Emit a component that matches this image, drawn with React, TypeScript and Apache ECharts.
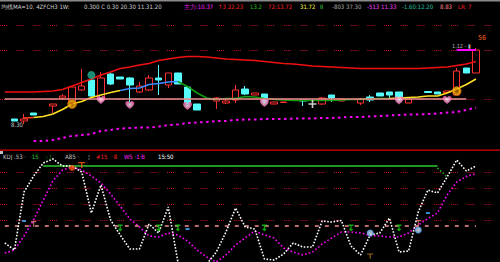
import React, { useEffect, useRef } from 'react';
import * as echarts from 'echarts';

const days = ['01','02','03','04','05','06','07','08','09','10','11','12','13','14','15','16','17','18','19','20','21','22','23','24','25','26','27','28','29','30','31','32','33','34','35','36','37','38','39','40','41','42','43','44','45','46','47','48','49','50','51','52'];

// [open, close, low, high]
const candles: any[] = [
  ['-','-','-','-'],
  [10.62, 10.58, 10.58, 10.62],
  [10.58, 10.62, 10.52, 10.72],
  [10.74, 10.70, 10.70, 10.74],
  ['-','-','-','-'],
  [10.88, 10.92, 10.74, 10.92],
  [11.04, 11.08, 11.00, 11.12],
  [10.96, 11.26, 10.96, 11.28],
  [11.20, 11.28, 11.18, 11.62],
  [11.40, 11.08, 11.06, 11.42],
  [11.00, 11.44, 10.96, 11.56],
  [11.52, 11.32, 11.30, 11.54],
  [11.46, 11.42, 11.42, 11.46],
  [11.44, 11.30, 10.96, 11.46],
  [11.16, 11.28, 11.14, 11.36],
  [11.20, 11.44, 11.18, 11.50],
  [11.44, 11.40, 11.10, 11.70],
  [11.30, 11.54, 11.24, 11.54],
  [11.54, 11.32, 11.32, 11.54],
  [11.26, 10.94, 10.92, 11.28],
  [10.92, 10.80, 10.80, 10.92],
  ['-','-','-','-'],
  [10.98, 11.04, 10.82, 11.06],
  [10.94, 10.98, 10.92, 11.04],
  [11.00, 11.20, 10.94, 11.30],
  [11.22, 11.12, 11.10, 11.28],
  [11.10, 11.14, 11.10, 11.14],
  [11.12, 10.98, 10.98, 11.12],
  [10.92, 10.96, 10.92, 10.96],
  [10.95, 10.96, 10.95, 10.96],
  ['-','-','-','-'],
  [11.00, 10.98, 10.88, 11.00],
  ['-','-','-','-'],
  [10.92, 11.04, 10.90, 11.06],
  [11.10, 11.04, 10.96, 11.10],
  [10.98, 11.02, 10.98, 11.02],
  ['-','-','-','-'],
  [10.94, 11.02, 10.90, 11.02],
  [11.06, 11.00, 10.96, 11.10],
  [11.14, 11.08, 11.08, 11.14],
  [11.16, 11.10, 11.04, 11.16],
  [11.16, 11.04, 11.04, 11.16],
  [10.94, 11.02, 10.94, 11.02],
  ['-','-','-','-'],
  [11.17, 11.15, 11.15, 11.17],
  [11.16, 11.12, 11.12, 11.16],
  [11.15, 11.18, 11.15, 11.18],
  [11.10, 11.58, 11.10, 11.64],
  [11.64, 11.54, 11.54, 11.64],
  [11.54, 12.00, 11.54, 12.04],
];

const maLong = [11.16,11.16,11.16,11.16,11.17,11.18,11.21,11.28,11.35,11.42,11.50,11.56,11.63,11.66,11.70,11.73,11.79,11.82,11.85,11.87,11.87,11.86,11.84,11.82,11.81,11.80,11.79,11.77,11.75,11.73,11.72,11.70,11.68,11.67,11.66,11.65,11.64,11.63,11.63,11.63,11.63,11.63,11.63,11.63,11.64,11.65,11.66,11.69,11.72,11.77];

const maShort: (number | null)[] = [null,null,10.64,10.65,10.67,10.72,10.81,10.92,10.97,11.05,11.10,11.15,11.19,11.23,11.24,11.31,11.33,11.36,11.37,11.27,11.14,11.04,11.01,11.03,11.03,11.07,11.06,11.03,11.01,11.00,10.99,10.99,10.99,10.99,10.99,11.00,11.01,11.01,11.02,11.03,11.03,11.04,11.05,11.06,11.08,11.08,11.14,11.22,11.31,11.42];

const lowerBand: (number | null)[] = [null,null,null,10.18,10.18,10.20,10.24,10.28,10.30,10.32,10.38,10.40,10.43,10.44,10.45,10.45,10.47,10.50,10.51,10.54,10.55,10.56,10.58,10.58,10.60,10.61,10.61,10.62,10.62,10.62,10.63,10.63,10.63,10.64,10.64,10.65,10.66,10.66,10.67,10.68,10.69,10.70,10.71,10.71,10.72,10.73,10.75,10.76,10.80,10.85];

const kLine = [-8.75,-17.5,55,75,91.25,96.25,87.5,87.5,80,28.75,63.75,20,1.25,-16.25,-16.25,15,3.75,36.25,-32.5,-45,-45,-35,-20,5,35,11.25,8.75,-28.75,-30,-22.5,-8.75,-13.75,-13.75,18.75,17.5,19.4,-12.5,-23.75,1.25,3.75,22.5,-20,-18.75,30,57.5,53.75,73.75,95,81.25,87.5];

const dLine = [-21.25,-17.5,0,20,45,68.75,82.5,86.25,82.5,75,66.25,52.5,37.5,21.25,11.25,0,-1.25,3.75,1.25,-6.25,-17.5,-26.25,-32.5,-23.75,-11.25,-2.5,6.25,1.25,-2.5,-15,-20,-23.75,-20,-10,-2.5,5,5,3.75,0.6,0,-1.25,-1.25,3.75,13.75,21.9,28.75,51.25,67.5,74.4,78.1];

const jTail: (number | null)[] = [null,null,null,null,null,null,null,null,null,null,null,null,null,null,null,null,null,null,null,null,null,null,null,null,null,null,null,null,null,null,null,null,null,null,null,null,null,null,null,null,null,null,null,null,null,85,73.75];

const hearts = [[10, 11.00], [13, 10.90], [19, 10.88], [27, 10.94], [41, 10.99], [46, 11.00]];
const goldCoins = [[7, 10.92], [47, 11.18]];
const tealCoins = [[9, 11.50]];
const dojiCross = [[32, 10.92]];
const buyArrows = [[12, 10], [16, 10], [18, 10], [27, 10], [36, 10], [41, 10]];
const orangeT = [[8, 88.75]];
const orangeDot = [[7, 85]];
const pinkMarks = [[3, 15], [43, 16.25]];
const cyanBlobs = [[38, 3.75], [43, 7.5]];
const brownT = [[38, -25]];
const cyanDots = [[2, 18.75], [19, 8.75], [44, 28.75]];

const topGridLevels = [12.5, 12.0, 11.02];
const refLevel = 11.02;
const kdjGridLevels = [80, 60, 40, 20];
const kdjRef = 12.5;
const kdjHigh = 87.5;
const lastMark = 12.0;

const topTexts = [
  { t: '均线MA=10. 4ZFCH3 1W:', x: 1, c: '#d0d0d0' },
  { t: '0.300 C 0.30 20.30 11.31.20', x: 84, c: '#d0d0d0' },
  { t: '主力:10.37', x: 184, c: '#ff20ff' },
  { t: '↑3 22.23', x: 218, c: '#ff2020' },
  { t: '13.2', x: 250, c: '#20c020' },
  { t: '72:13.72', x: 268, c: '#ff2020' },
  { t: '31.72', x: 300, c: '#ffff40' },
  { t: 'II', x: 320, c: '#40e040' },
  { t: '-803 37.30', x: 332, c: '#a8a8a8' },
  { t: '-513 11.33', x: 367, c: '#ff40ff' },
  { t: '-1.60:12.20', x: 402, c: '#20c0a0' },
  { t: '8.83', x: 440, c: '#ff8080' },
  { t: 'LR: 7', x: 458, c: '#ff2020' },
];
const kdjTexts = [
  { t: 'KDJ .53 ·', x: 3, c: '#c0c0c0' },
  { t: '·15', x: 30, c: '#20c020' },
  { t: ': ¦', x: 46, c: '#20c020' },
  { t: 'A85 ·', x: 65, c: '#c0c0c0' },
  { t: '¦', x: 88, c: '#c0c0c0' },
  { t: '#15', x: 96, c: '#ff2020' },
  { t: '·8', x: 112, c: '#ff2020' },
  { t: 'W5 ·1·B', x: 124, c: '#ff20ff' },
  { t: '15:50', x: 158, c: '#ffffff' },
];

const heartPath = 'path://M50,90 C20,65 0,45 0,25 C0,10 12,0 25,0 C37,0 45,8 50,18 C55,8 63,0 75,0 C88,0 100,10 100,25 C100,45 80,65 50,90 Z';
const crossPath = 'path://M4,0 H6 V4 H10 V6 H6 V10 H4 V6 H0 V4 H4 Z';
const arrowPath = 'path://M0,0 H8 V2 H5 V6 H8 L4,10 L0,6 H3 V2 H0 Z';
const tPath = 'path://M0,0 H10 V2 H6 V10 H4 V2 H0 Z';

const FONT = 'DejaVu Sans Condensed, DejaVu Sans, sans-serif';

export default function App() {
  const ref = useRef<HTMLDivElement>(null);
  useEffect(() => {
    const chart = echarts.init(ref.current!, null, { renderer: 'svg' });
    const seg = (from: number, to: number) => maShort.map((v, i) => (i >= from && i <= to ? v : null));
    const segLine = (from: number, to: number, color: string) => ({
      type: 'line', xAxisIndex: 0, yAxisIndex: 0, data: seg(from, to), symbol: 'none',
      lineStyle: { color, width: 1.6 }, z: 4, connectNulls: false,
    });
    const dotted = [1, 1, 1, 1, 1, 1, 1, 9.7];
    const scatter = (xi: number, yi: number, data: any[], symbol: string, size: any, color: any, z = 8, extra: any = {}) => ({
      type: 'scatter', xAxisIndex: xi, yAxisIndex: yi, data, symbol, symbolSize: size,
      itemStyle: { color, ...extra }, z, silent: true,
    });
    const txt = (t: string, x: number, y: number, c: string, size = 6) => ({
      type: 'text', x, y, z: 20, style: { text: t, fill: c, fontSize: size, fontFamily: FONT },
    });
    const texts: any[] = [];
    topTexts.forEach((d) => texts.push(txt(d.t, d.x, 3, d.c)));
    kdjTexts.forEach((d) => texts.push(txt(d.t, d.x, 153, d.c)));
    texts.push(txt('8.30', 11, 121, '#c0c0c0'));
    texts.push(txt('1.12 - ▮', 452, 43, '#b0b0b0', 5.5));
    texts.push(txt('56', 478, 34, '#ff6020', 7));
    texts.push({ type: 'rect', shape: { x: 0, y: 0, width: 500, height: 1.5 }, style: { fill: '#8a8a8a' }, z: 20 });
    texts.push({ type: 'rect', shape: { x: 0, y: 149.5, width: 500, height: 1.2 }, style: { fill: '#e00000' }, z: 20 });
    texts.push({ type: 'rect', shape: { x: 0, y: 151, width: 3, height: 3 }, style: { fill: '#c0c0c0' }, z: 20 });

    const heartColor = new echarts.graphic.RadialGradient(0.5, 0.45, 0.6, [
      { offset: 0, color: '#ffffff' }, { offset: 0.5, color: '#ff9ad0' }, { offset: 1, color: '#ff3c9c' },
    ]);
    const coinColor = new echarts.graphic.RadialGradient(0.5, 0.5, 0.6, [
      { offset: 0, color: '#c05000' }, { offset: 0.5, color: '#f0b000' }, { offset: 1, color: '#ffd040' },
    ]);
    const blobColor = new echarts.graphic.RadialGradient(0.5, 0.5, 0.6, [
      { offset: 0, color: '#ffffff' }, { offset: 1, color: '#40a0ff' },
    ]);

    const option: any = {
      animation: false,
      backgroundColor: '#000000',
      graphic: texts,
      grid: [
        { left: -2, right: 0, top: 0, height: 150 },
        { left: -2, right: 0, top: 150, height: 112 },
      ],
      xAxis: [
        { type: 'category', gridIndex: 0, data: days, show: false, boundaryGap: true },
        { type: 'category', gridIndex: 1, data: days, show: false, boundaryGap: true },
      ],
      yAxis: [
        { type: 'value', gridIndex: 0, min: 10, max: 13, show: false, splitLine: { show: false } },
        { type: 'value', gridIndex: 1, min: -32.5, max: 107.5, show: false, splitLine: { show: false } },
      ],
      series: [
        {
          type: 'candlestick', xAxisIndex: 0, yAxisIndex: 0, data: candles, barWidth: 7, z: 3,
          itemStyle: { color: '#000000', color0: '#54fcfc', borderColor: '#ff3030', borderColor0: '#54fcfc', borderWidth: 1 },
          markLine: {
            silent: true, symbol: 'none', label: { show: false },
            lineStyle: { color: '#c8102a', type: dotted, width: 1 },
            data: topGridLevels.map((v) => ({ yAxis: v })),
          },
        },
        {
          type: 'line', xAxisIndex: 0, yAxisIndex: 0, data: maLong, symbol: 'none', z: 4,
          lineStyle: { color: '#f01010', width: 1.6 },
          markLine: {
            silent: true, symbol: 'none', label: { show: false },
            lineStyle: { color: '#f09090', type: 'solid', width: 1.5 },
            data: [
              [{ coord: [days[0], refLevel] }, { coord: [days[48], refLevel] }],
              [{ coord: [days[47], lastMark], lineStyle: { color: '#ff00ff', width: 2, type: 'solid' } }, { coord: [days[49], lastMark] }],
            ],
          },
        },
        segLine(2, 3, '#ff4020'),
        segLine(3, 12, '#ffe020'),
        segLine(12, 18, '#3a8cff'),
        segLine(18, 40, '#109a10'),
        segLine(40, 49, '#ffe020'),
        {
          type: 'line', xAxisIndex: 0, yAxisIndex: 0, data: lowerBand, symbol: 'none', z: 4,
          lineStyle: { color: '#ff00ff', width: 2, type: [2.5, 3.5] },
        },
        scatter(0, 0, hearts, heartPath, [9, 8], heartColor, 9),
        scatter(0, 0, goldCoins, 'circle', 9, coinColor, 9, { borderColor: '#c04000', borderWidth: 0.8 }),
        scatter(0, 0, tealCoins, 'circle', 8, '#20b090', 9),
        scatter(0, 0, dojiCross, crossPath, 8, '#ffffff', 9),
        {
          type: 'line', xAxisIndex: 1, yAxisIndex: 1, data: dLine, symbol: 'none', z: 4,
          lineStyle: { color: '#ff00ff', width: 1.6, type: [1.6, 2.2] },
          markLine: {
            silent: true, symbol: 'none', label: { show: false },
            lineStyle: { color: '#c8102a', type: dotted, width: 1 },
            data: [
              ...kdjGridLevels.map((v) => ({ yAxis: v })),
              [{ coord: [days[0], kdjRef], lineStyle: { color: '#f09090', type: [4, 6], width: 1.5 } }, { coord: [days[49], kdjRef] }],
              [{ coord: [days[4], kdjHigh], lineStyle: { color: '#30c830', type: 'solid', width: 1.5 } }, { coord: [days[45], kdjHigh] }],
            ],
          },
        },
        {
          type: 'line', xAxisIndex: 1, yAxisIndex: 1, data: kLine, symbol: 'none', z: 5,
          lineStyle: { color: '#ffffff', width: 1.6, type: [1.6, 1.6] },
        },
        {
          type: 'line', xAxisIndex: 1, yAxisIndex: 1, data: jTail, symbol: 'none', z: 5,
          lineStyle: { color: '#20c020', width: 1.5, type: [1.5, 2] },
        },
        scatter(1, 1, buyArrows, arrowPath, [5, 7], '#10d010', 9),
        scatter(1, 1, orangeT, tPath, [7, 6], '#ff6010', 9),
        scatter(1, 1, orangeDot, 'circle', 6, '#ff5010', 9),
        scatter(1, 1, pinkMarks, tPath, [5, 6], '#ff8888', 9),
        scatter(1, 1, cyanBlobs, 'circle', 7, blobColor, 9),
        scatter(1, 1, brownT, tPath, [6, 5], '#c08020', 9),
        scatter(1, 1, cyanDots, 'rect', [4, 2], '#40b0ff', 9),
      ],
    };
    chart.setOption(option);
    return () => chart.dispose();
  }, []);
  return <div ref={ref} style={{ position: 'fixed', left: 0, top: 0, width: 500, height: 262, background: '#000' }} />;
}
